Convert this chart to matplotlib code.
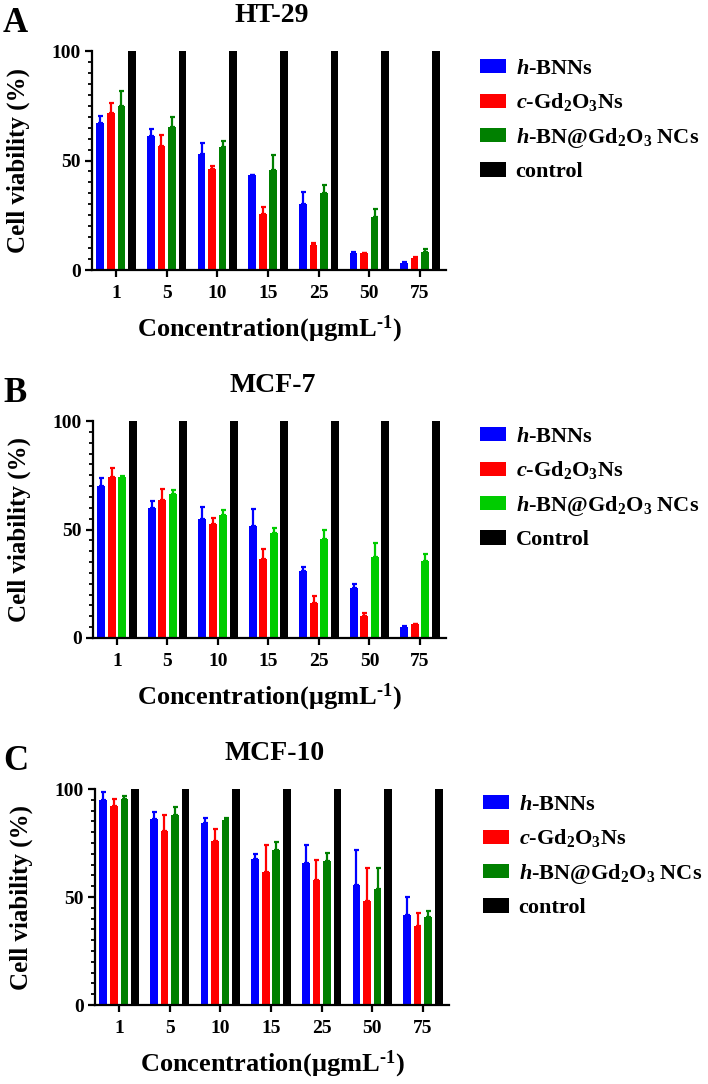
# viability bar charts: HT-29, MCF-7, MCF-10
import numpy as np
import matplotlib
matplotlib.use("Agg")
import matplotlib.pyplot as plt

plt.rcParams['font.family'] = ['Liberation Serif', 'DejaVu Serif']
plt.rcParams['font.weight'] = 'bold'
plt.rcParams['axes.labelweight'] = 'bold'
plt.rcParams['mathtext.fontset'] = 'custom'
plt.rcParams['mathtext.rm'] = 'Liberation Serif:bold'
plt.rcParams['mathtext.bf'] = 'Liberation Serif:bold'
plt.rcParams['mathtext.it'] = 'Liberation Serif:bold:italic'

# === data ===
conc = ['1', '5', '10', '15', '25', '50', '75']

# HT-29
ht_bnns = [67.0, 61.3, 52.8, 43.4, 30.1, 7.6, 3.3]
ht_bnns_err = [3.5, 2.9, 5.3, 0.2, 5.7, 0.6, 0.4]
ht_gd = [71.5, 56.8, 46.1, 25.4, 11.3, 7.6, 5.6]
ht_gd_err = [4.9, 5.0, 1.4, 3.2, 1.2, 0.2, 0.3]
ht_nc = [74.9, 65.1, 56.0, 45.7, 35.0, 24.0, 8.2]
ht_nc_err = [7.0, 4.6, 2.9, 6.7, 3.7, 3.7, 1.5]
ht_ctrl = [100, 100, 100, 100, 100, 100, 100]

# MCF-7
m7_bnns = [70.0, 59.7, 54.8, 51.5, 30.8, 23.1, 5.1]
m7_bnns_err = [3.8, 3.5, 5.4, 8.0, 1.7, 2.0, 0.6]
m7_gd = [74.3, 63.5, 52.5, 36.6, 16.0, 10.3, 6.3]
m7_gd_err = [4.2, 5.3, 2.9, 4.2, 3.4, 1.2, 0.3]
m7_nc = [74.0, 66.2, 56.9, 48.5, 45.4, 37.1, 35.4]
m7_nc_err = [0.6, 2.0, 2.0, 2.3, 4.6, 6.9, 3.4]
m7_ctrl = [100, 100, 100, 100, 100, 100, 100]

# MCF-10
m10_bnns = [95.1, 86.2, 84.2, 67.5, 65.7, 55.6, 41.7]
m10_bnns_err = [3.4, 3.3, 2.5, 2.2, 8.3, 16.0, 8.2]
m10_gd = [92.0, 80.4, 75.7, 61.4, 57.7, 48.2, 36.6]
m10_gd_err = [3.4, 7.5, 5.8, 12.6, 9.5, 15.2, 5.9]
m10_nc = [95.4, 87.8, 85.8, 71.9, 66.5, 53.8, 40.6]
m10_nc_err = [1.5, 3.9, 0.9, 3.4, 4.1, 9.6, 2.7]
m10_ctrl = [100, 100, 100, 100, 100, 100, 100]

lab_bnns = r'$\mathit{h}$-BNNs'
lab_gd = r'$\mathit{c}$-Gd$_2$O$_3$Ns'
lab_nc = r'$\mathit{h}$-BN@Gd$_2$O$_3$ NCs'

W, H = 708, 1084
fig = plt.figure(figsize=(W / 100, H / 100), dpi=100)


def px_axes(x0, y_top, x1, y_zero):
    # pixel box -> figure fraction
    return fig.add_axes([x0 / W, 1 - y_zero / H, (x1 - x0) / W, (y_zero - y_top) / H])


def panel(ax, title, letter, series, ctrl, colors, labels, ctrl_label, leg_top, leg_left):
    x = np.arange(len(conc))
    bw = 0.15
    offs = [-0.312, -0.104, 0.104, 0.312]
    handles = []
    for (vals, errs), col, off in zip(series, colors, offs[:3]):
        b = ax.bar(x + off, vals, bw, color=col)
        ax.errorbar(x + off, vals, yerr=[np.zeros(len(errs)), errs], fmt='none',
                    ecolor=col, elinewidth=1.6, capsize=1.8, capthick=1.6)
        handles.append(b)
    b = ax.bar(x + offs[3], ctrl, bw, color='black')
    handles.append(b)

    ax.set_xlim(-0.475, 6.515)
    ax.set_ylim(0, 100)
    ax.set_xticks(x)
    ax.set_xticklabels(conc)
    ax.set_yticks([0, 50, 100])
    ax.set_yticks(np.arange(0, 101, 5), minor=True)
    ax.spines['top'].set_visible(False)
    ax.spines['right'].set_visible(False)
    for s in ['left', 'bottom']:
        ax.spines[s].set_linewidth(1.6)
    ax.tick_params(axis='both', which='major', labelsize=14, width=1.6, length=5, pad=3)
    ax.tick_params(axis='y', which='minor', width=1.3, length=3)
    ax.tick_params(axis='x', which='major', pad=6)

    ax.set_ylabel('Cell viability (%)', fontsize=18)
    ax.yaxis.set_label_coords(-0.175, 0.5)
    ax.set_xlabel('Concentration(\u03bcgmL$^{\\text{-1}}$)', fontsize=19)
    ax.xaxis.set_label_coords(0.5, -0.20)

    ax.text(0.508, 1.164, title, transform=ax.transAxes, ha='center', va='center',
            fontsize=20)
    pos = ax.get_position()
    fig.text(3 / W, pos.y1 + 0.025, letter, fontsize=25, ha='left', va='center')

    ax.legend(handles, labels + [ctrl_label], loc='upper left', frameon=False,
              bbox_to_anchor=(leg_left / W, 1 - leg_top / H), bbox_transform=fig.transFigure,
              fontsize=16, handlelength=1.15, handleheight=0.6, handletextpad=0.45,
              labelspacing=0.56, borderpad=0, borderaxespad=0)


# === A: HT-29 ===
axA = px_axes(92, 51, 446, 270)
panel(axA, 'HT-29', 'A',
      [(ht_bnns, ht_bnns_err), (ht_gd, ht_gd_err), (ht_nc, ht_nc_err)], ht_ctrl,
      ['#0000ff', '#ff0000', '#008000'], [lab_bnns, lab_gd, lab_nc], 'control', 59, 480)

# === B: MCF-7 ===
axB = px_axes(93, 421, 446, 638)
panel(axB, 'MCF-7', 'B',
      [(m7_bnns, m7_bnns_err), (m7_gd, m7_gd_err), (m7_nc, m7_nc_err)], m7_ctrl,
      ['#0000ff', '#ff0000', '#00cc00'], [lab_bnns, lab_gd, lab_nc], 'Control', 427, 480)

# === C: MCF-10 ===
axC = px_axes(95, 789, 449, 1005)
panel(axC, 'MCF-10', 'C',
      [(m10_bnns, m10_bnns_err), (m10_gd, m10_gd_err), (m10_nc, m10_nc_err)], m10_ctrl,
      ['#0000ff', '#ff0000', '#008000'], [lab_bnns, lab_gd, lab_nc], 'control', 795, 483)

fig.savefig('out.png', dpi=100)
